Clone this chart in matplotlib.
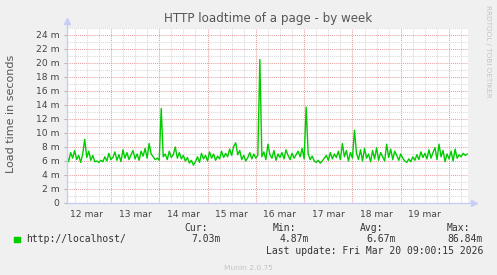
import numpy as np
import matplotlib
matplotlib.use('Agg')
import matplotlib.pyplot as plt

# hourly load times (ms), starting at hour 2 after 12 mar 00:00
day1 = [6.9, 5.9, 7.2, 6.4, 7.5, 6.2, 6.8, 5.8, 7.0, 9.1, 6.5, 7.4,
        6.1, 6.8, 5.9, 6.0, 5.8, 6.1, 5.9, 6.6, 6.0, 7.1, 6.2, 6.5]
day2 = [7.3, 6.1, 6.9, 5.9, 7.6, 6.4, 7.2, 6.2, 6.9, 7.5, 6.3, 7.0,
        6.1, 7.4, 6.7, 7.8, 6.4, 8.5, 7.0, 6.6, 6.2, 6.4, 6.1, 13.5]
day3 = [6.6, 7.0, 6.2, 7.4, 6.5, 6.9, 8.0, 6.4, 7.2, 6.3, 6.8, 6.0,
        6.5, 5.7, 6.1, 5.4, 5.9, 6.6, 5.8, 7.1, 6.3, 6.8, 6.0, 7.3]
day4 = [6.4, 7.0, 6.1, 6.7, 6.3, 7.4, 6.5, 7.1, 6.6, 7.7, 6.8, 8.1,
        8.6, 6.9, 7.5, 6.2, 6.8, 6.0, 6.5, 7.2, 6.3, 7.0, 6.4, 6.8]
day5 = [20.5, 6.6, 7.3, 6.2, 8.4, 6.9, 6.4, 7.5, 6.1, 7.0, 6.5, 7.2,
        6.3, 7.6, 6.8, 6.2, 7.1, 6.4, 6.9, 7.4, 6.6, 7.8, 6.3, 13.7]
day6 = [7.0, 6.2, 6.7, 6.0, 5.8, 6.1, 5.7, 6.0, 6.4, 6.8, 6.1, 7.2,
        6.3, 7.0, 6.5, 7.4, 6.2, 8.5, 6.6, 7.5, 6.0, 7.2, 6.4, 10.4]
day7 = [7.1, 6.2, 7.6, 6.0, 7.8, 6.4, 7.0, 5.9, 7.5, 6.3, 7.9, 6.1,
        7.2, 6.6, 6.0, 8.4, 6.5, 7.7, 6.2, 7.4, 6.8, 6.1, 7.0, 6.4]
day8 = [6.0, 5.8, 6.3, 5.9, 6.6, 6.1, 6.9, 6.2, 7.3, 6.5, 7.1, 6.3,
        7.6, 6.4, 7.2, 7.9, 6.2, 8.4, 6.6, 7.5, 5.9, 7.0, 6.3, 7.4]
day9 = [6.0, 7.7, 6.4, 6.9, 6.6, 7.1, 6.8, 7.0]

loadtime = day1 + day2 + day3 + day4 + day5 + day6 + day7 + day8 + day9
hours = np.arange(len(loadtime)) + 2.0

day_labels = ['12 mar', '13 mar', '14 mar', '15 mar', '16 mar', '17 mar', '18 mar', '19 mar']
y_major = [0, 2, 4, 6, 8, 10, 12, 14, 16, 18, 20, 22, 24]
y_labels = ['0'] + ['%d m' % v for v in y_major[1:]]

W, H = 497, 275
fig = plt.figure(figsize=(W / 100, H / 100), dpi=100)
fig.patch.set_facecolor('#F0F0F0')

ax = fig.add_axes([67 / W, 72 / H, 401 / W, 175 / H])
ax.set_facecolor('white')
x0, x1 = 2.2, 201.4
ax.set_xlim(x0, x1)
ax.set_ylim(0, 25)

gray = '#D8D8D8'
red = '#E8A0A0'
dots = (0, (1, 1))

# grid
for h in np.arange(6, 201, 6):
    if h % 24 == 0:
        ax.axvline(h, color=red, lw=0.75, ls=dots, zorder=1)
    else:
        ax.axvline(h, color=gray, lw=0.75, ls=dots, zorder=1)
for v in range(1, 26):
    if v % 2 == 0:
        ax.axhline(v, color=red, lw=0.75, ls=dots, zorder=1)
    else:
        ax.axhline(v, color=gray, lw=0.75, ls=dots, zorder=1)

ax.plot(hours, loadtime, color='#00CC00', lw=1.0, zorder=3)

for s in ax.spines.values():
    s.set_visible(False)

axis_c = '#C8CCF8'
ax.plot([0, 0], [0, 1.02], transform=ax.transAxes, color=axis_c, lw=1, clip_on=False, zorder=4)
ax.plot([0, 1.01], [0, 0], transform=ax.transAxes, color=axis_c, lw=1, clip_on=False, zorder=4)
ax.plot([0], [1.04], transform=ax.transAxes, marker='^', ms=4, color=axis_c, clip_on=False)
ax.plot([1.015], [0], transform=ax.transAxes, marker='>', ms=4, color=axis_c, clip_on=False)

ax.set_yticks(y_major)
ax.set_yticklabels(y_labels)
ax.tick_params(axis='y', length=2.5, width=0.75, color='#B0B0B0', pad=3,
               labelsize=6.6, labelcolor='#444444')
ax.set_xticks(np.arange(12, 192, 24))
ax.set_xticklabels(day_labels)
ax.tick_params(axis='x', length=0, pad=5, labelsize=6.6, labelcolor='#444444')

ax.set_ylabel('Load time in seconds', fontsize=8, color='#555555')
ax.yaxis.set_label_coords(-51 / 401, 0.51)

fig.text(268 / W, 1 - 18.5 / H, 'HTTP loadtime of a page - by week', ha='center', va='center',
         fontsize=8.6, color='#555555')
fig.text(488 / W, 1 - 5 / H, 'RRDTOOL / TOBI OETIKER', rotation=270, ha='center', va='top',
         fontsize=5.2, color='#C4C4C4')

mono = 'DejaVu Sans Mono'
fs = 7.0
tc = '#333333'
fig.patches.append(plt.Rectangle((14 / W, 1 - 242 / H), 5.5 / W, 5.5 / H,
                                 transform=fig.transFigure, color='#00CC00'))
fig.text(26 / W, 1 - 239.5 / H, 'http://localhost/', family=mono, fontsize=fs, color=tc, va='center')
stats = [('Cur:', '7.03m', 208, 221), ('Min:', '4.87m', 296, 309),
         ('Avg:', '6.67m', 383, 396), ('Max:', '86.84m', 470, 483)]
for name, val, xn, xv in stats:
    fig.text(xn / W, 1 - 228 / H, name, family=mono, fontsize=fs, color=tc, va='center', ha='right')
    fig.text(xv / W, 1 - 239.5 / H, val, family=mono, fontsize=fs, color=tc, va='center', ha='right')
fig.text(483 / W, 1 - 251 / H, 'Last update: Fri Mar 20 09:00:15 2026', family=mono, fontsize=fs,
         color=tc, va='center', ha='right')
fig.text(248 / W, 1 - 268 / H, 'Munin 2.0.75', fontsize=5.4, color='#C4C4C4', ha='center', va='center')

fig.savefig('out.png', dpi=100, facecolor=fig.get_facecolor())
